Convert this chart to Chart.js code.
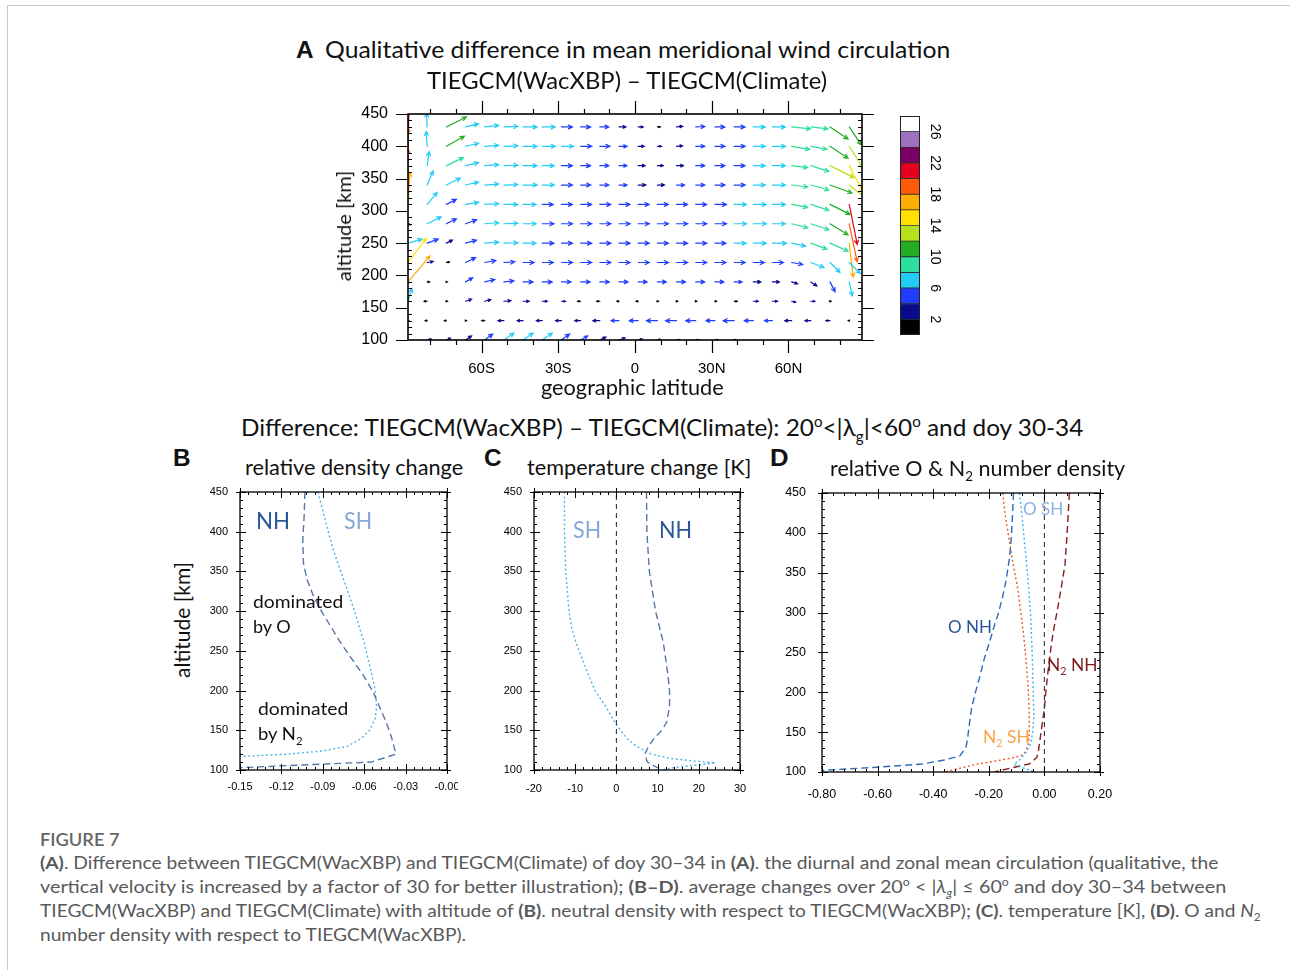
<!DOCTYPE html>
<html>
<head>
<meta charset="utf-8">
<script src="https://cdn.jsdelivr.net/npm/chart.js@4.4.1/dist/chart.umd.min.js"></script>
<style>
html, body { margin: 0; padding: 0; background: #fff; }
#page { position: relative; width: 1290px; height: 970px; overflow: hidden; background: #fff; }
#frame { position: absolute; left: 7px; top: 5px; width: 1300px; height: 980px;
  border-left: 1.5px solid #c8c8c8; border-top: 1.5px solid #c8c8c8; }
canvas { position: absolute; }
.t { position: absolute; white-space: nowrap; line-height: 1; transform-origin: 0 50%; font-family: Lato, "Open Sans", sans-serif; color: #111; }
.t sub, .t sup { font-size: 0.62em; line-height: 0; }
.rot { position: absolute; white-space: nowrap; line-height: 1; font-family: Lato, sans-serif; color: #111;
  transform: translate(-50%, -50%) rotate(-90deg); }
</style>
</head>
<body>
<div id="page">
  <div id="frame"></div>
  <canvas id="chartA" width="540" height="300" style="left:340px;top:90px"></canvas>
  <canvas id="chartBar" width="70" height="240" style="left:890px;top:106px"></canvas>
  <canvas id="chartB" width="263" height="320" style="left:195px;top:480px"></canvas>
  <canvas id="chartC" width="260" height="320" style="left:495px;top:480px"></canvas>
  <canvas id="chartD" width="345" height="330" style="left:775px;top:480px"></canvas>
  <div class="rot" style="left:343px;top:226px;font-size:20px">altitude [km]</div>
  <div class="rot" style="left:181px;top:620px;font-size:21px">altitude [km]</div>
</div>
<script>
// ---- panel A: meridional wind circulation (vectors at grid points) ----
const LATS = [-88.75, -81.25, -73.75, -66.25, -58.75, -51.25, -43.75, -36.25, -28.75, -21.25, -13.75, -6.25,
  1.25, 8.75, 16.25, 23.75, 31.25, 38.75, 46.25, 53.75, 61.25, 68.75, 76.25, 83.75];
const ALTS = [430, 400, 370, 340, 310, 280, 250, 220, 190, 160, 130, 100];
// meridional component (northward +), one row per altitude
const U_WIND = [
  [1, -0.3, 10, 6.5, 7, 7, 7, 6.5, 5.5, 5, 4.5, 3.5, 2.5, 1.5, 3, 4.5, 5, 5.5, 6, 6.5, 9.5, 8.5, 9, 6],
  [0.5, -0.5, 9, 6.5, 7, 7, 7, 6.5, 6, 5.5, 5, 4, 3, 2, 3, 4.5, 5, 5.5, 6, 6.5, 9, 8, 9, 7],
  [0, 1, 8.5, 6.5, 7, 7, 7, 6, 5.5, 5, 4.5, 4, 3.5, 3, 3.5, 4.5, 5, 5.5, 6, 6.5, 8, 9, 12, 7],
  [0, 3, 7, 6.5, 7, 7, 7, 6, 5.5, 5, 4.5, 4, 3.8, 3.5, 4, 4.5, 5, 5.5, 6, 6.5, 8, 9, 11, 10],
  [1, 5, 5, 6.5, 7, 7, 6.5, 5.5, 5.5, 5.5, 5.5, 5.5, 5.5, 5.5, 5.5, 5.5, 5.8, 6.2, 6.5, 6.5, 8, 9, 10, 4],
  [1, 7, 5, 5.5, 7, 7, 6.5, 5.8, 5.5, 5.5, 5.5, 5.5, 5.5, 5.5, 5.5, 5.5, 5.8, 6.2, 6.5, 6.5, 8, 9, 9, 4],
  [7, 5.5, 3, 5.5, 7, 7, 6.5, 5.8, 5.5, 5.5, 5.5, 5.5, 5.5, 5.5, 5.5, 5.5, 5.5, 6, 6.5, 7, 7, 8, 9, 2],
  [9, 3, 1.5, 5, 5.5, 5.5, 5.5, 5.5, 5.5, 5.5, 5.5, 5.5, 5.5, 5.5, 5.5, 5.5, 5.5, 5.5, 5.5, 5.5, 5.5, 6.5, 5, 5.5],
  [11, 1.2, 0.5, 3.5, 5, 5, 5, 5, 4.8, 4.8, 4.8, 4.5, 4.5, 4.5, 4.5, 4.5, 4.5, 4, 3.8, 3.5, 3, 3, 2.5, 1.5],
  [2, -1.5, 0.5, 3, 3, 3.5, 3, 2.5, 2, -1.5, -1.5, -1, -1, 0.5, 0.5, 0.5, 0.8, 1.5, 2.5, 2.5, 2, 2, 0.5, 0],
  [0.5, -1, -1, 0.5, -1.5, -3, -3, -3, -3, -3, -3.5, -4, -4.5, -5.5, -5.5, -5, -4.5, -5.5, -4.5, -4, -3.5, -3, -2, -0.5],
  [0, 2, 2, 3, 4, 5, 5, 5, 4, 3.5, 3, 3, 2, 1.5, 1.5, 1.5, 1.5, 1, 0, 0, 0, 0, 0, 0]
];
// vertical component (x30, upward +)
const W_WIND = [
  [21, 7, 5, 1.5, 0.8, 0.3, 0, 0, 0, 0, 0, 0, 0, 0, 0.3, 0.2, 0, 0, 0, 0, -1, -1, -6, -9],
  [20, 7.5, 5, 1.5, 0.5, 0.2, 0, 0, 0, 0, 0, 0, 0, 0, 0.2, 0, 0, 0, 0, 0, -1.5, -1.5, -6, -11],
  [19, 7, 4, 1.5, 0.5, 0.2, 0, 0, 0, 0, 0, 0, 0, 0, 0, 0, 0, 0, 0, 0, -1, -3, -6, -13],
  [18, 7, 3.5, 1.5, 0.5, 0.2, 0, 0, 0, 0, 0, 0, 0, 0, 0, 0, 0, 0, 0, 0, -1, -2.5, -4, -8],
  [16, 6, 2.5, 1, 0.3, 0, 0, 0, 0, 0, 0, 0, 0, 0, 0, 0, 0, 0, 0, 0, -1.5, -3, -5, -20],
  [-0.5, 3.5, 2.5, 2, 0.5, 0.2, 0, 0, 0, 0, 0, 0, 0, 0, 0, 0, 0, 0, 0, 0, -2, -3, -5.5, -19],
  [2, 2, 1.5, 1.5, 0.5, 0.2, 0, 0, 0, 0, 0, 0, 0, 0, 0, 0, 0, 0, 0, 0, -1.5, -3, -4, -17],
  [12, 0.5, 0.3, 2.5, 1, 0.3, 0, 0, 0, 0, 0, 0, 0, 0, 0, 0, 0, 0, 0, 0, -1, -2.5, -5, -5.5],
  [13, 0, 0, 2, 1.2, 0.5, 0, 0, 0, 0, 0, 0, 0, 0, 0, 0, 0, 0, 0, 0, -1, -2, -5, -7],
  [6.5, 0, 0, 1, 0.8, 0.3, 0, 0, 0, 0, 0, 0, 0, 0, 0, 0, 0, 0, 0, 0, -0.5, 0, 0, 0],
  [0, 0, 0, 0, 0, 0, 0, 0, 0, 0, 0, 0, 0, 0, 0, 0, 0, 0, 0, 0, 0, 0, 0, 0],
  [0, 0.5, 1, 2, 3, 3.5, 3.5, 3.5, 3, 2, 1.5, 1, 0.5, 0.3, 0, 0, 0, 0, 0, 0, 0, 0, 0, 0]
];
const LAT_TICKS = [-60, -30, 0, 30, 60];
const LAT_LABELS = ['60S', '30S', '0', '30N', '60N'];
const ALT_TICKS = [100, 150, 200, 250, 300, 350, 400, 450];

// colour bar levels
const CBAR_EDGES = [0, 2, 4, 6, 8, 10, 12, 14, 16, 18, 20, 22, 24, 26, 28];
const CBAR_LABELS = [2, 6, 10, 14, 18, 22, 26];
const CBAR_COLORS = ['#000000', '#0a0a8c', '#1f3cff', '#22cdf5', '#2ede9e', '#22ad22', '#b7e01a',
  '#ffe000', '#ffad00', '#ff5a0a', '#e5001f', '#7a0066', '#a070c0', '#ffffff'];

// ---- panel B: relative density change ----
const B_ALT_NH = [450, 420, 390, 360, 340, 320, 300, 280, 260, 240, 220, 200, 180, 160, 140, 120, 110, 100];
const B_NH = [-0.103, -0.1035, -0.1045, -0.104, -0.1015, -0.097, -0.091, -0.084, -0.077, -0.069, -0.061, -0.054, -0.049, -0.044, -0.040, -0.037, -0.055, -0.19];
const B_ALT_SH = [450, 420, 380, 340, 300, 260, 220, 200, 180, 165, 150, 140, 130, 124, 120, 117, 114];
const B_SH = [-0.0935, -0.089, -0.083, -0.075, -0.067, -0.060, -0.0545, -0.052, -0.051, -0.052, -0.056, -0.062, -0.072, -0.090, -0.115, -0.15, -0.19];
const B_X_TICKS = [-0.15, -0.12, -0.09, -0.06, -0.03, 0];
const B_X_LABELS = ['-0.15', '-0.12', '-0.09', '-0.06', '-0.03', '-0.00'];

// ---- panel C: temperature change [K] ----
const C_ALT_SH = [450, 400, 350, 300, 280, 260, 240, 220, 200, 180, 160, 150, 140, 130, 120, 115, 112, 109, 106, 103, 100];
const C_SH = [-12.6, -12.6, -12.3, -11.5, -10.9, -9.8, -8.3, -6.8, -5.2, -2.6, -0.4, 1.0, 2.5, 4.8, 8.5, 12.6, 17.5, 24, 19, 14, 11];
const C_ALT_NH = [450, 400, 350, 300, 260, 220, 200, 180, 160, 150, 140, 130, 120, 110, 100];
const C_NH = [7.3, 7.4, 8.0, 9.5, 11.4, 12.5, 12.9, 12.9, 12.2, 11.0, 9.2, 7.8, 6.9, 7.5, 11];
const C_X_TICKS = [-20, -10, 0, 10, 20, 30];

// ---- panel D: relative O & N2 number density ----
const D_ALT_ONH = [450, 400, 370, 340, 320, 300, 280, 260, 240, 220, 200, 180, 160, 140, 130, 120, 115, 110, 106, 102, 100];
const D_ONH = [-0.111, -0.118, -0.125, -0.138, -0.150, -0.165, -0.183, -0.200, -0.218, -0.232, -0.248, -0.262, -0.270, -0.277, -0.283, -0.305, -0.36, -0.44, -0.60, -0.80, -0.90];
const D_ALT_OSH = [450, 420, 390, 350, 300, 250, 200, 170, 150, 135, 125, 115, 110, 105, 100];
const D_OSH = [-0.090, -0.080, -0.072, -0.061, -0.050, -0.044, -0.040, -0.038, -0.042, -0.050, -0.065, -0.090, -0.110, -0.075, -0.035];
const D_ALT_N2SH = [450, 420, 390, 360, 330, 300, 270, 240, 210, 180, 150, 135, 125, 120, 115, 110, 100];
const D_N2SH = [-0.150, -0.140, -0.126, -0.112, -0.096, -0.085, -0.074, -0.066, -0.059, -0.055, -0.054, -0.058, -0.068, -0.085, -0.155, -0.24, -0.36];
const D_ALT_N2NH = [450, 420, 390, 360, 330, 300, 280, 260, 240, 220, 200, 180, 160, 140, 125, 118, 110, 105, 100];
const D_N2NH = [0.090, 0.085, 0.080, 0.074, 0.060, 0.045, 0.034, 0.025, 0.018, 0.011, 0.005, 0.0, -0.008, -0.016, -0.022, -0.028, -0.055, -0.12, -0.18];
const D_X_TICKS = [-0.8, -0.6, -0.4, -0.2, 0, 0.2];
const D_X_LABELS = ['-0.80', '-0.60', '-0.40', '-0.20', '0.00', '0.20'];

const ARROW_SCALE = 2; // px per unit

Chart.defaults.font.family = '"Liberation Sans", Arial, sans-serif';
Chart.defaults.color = '#000';

function range(a, b, step) {
  const out = [];
  for (let v = a; v <= b + 1e-9; v += step) out.push(Math.round(v * 1e6) / 1e6);
  return out;
}

// frame + NCL-like major/minor tick marks on all four sides
const frameTicks = {
  id: 'frameTicks',
  afterDraw(chart, args, o) {
    if (!o || !o.on) return;
    const { ctx, chartArea: a } = chart;
    const xs = chart.scales.x, ys = chart.scales.y;
    ctx.save();
    ctx.strokeStyle = '#000';
    ctx.lineWidth = o.frameWidth;
    ctx.strokeRect(a.left, a.top, a.right - a.left, a.bottom - a.top);
    ctx.lineWidth = o.tickWidth;
    ctx.beginPath();
    const xt = (vals, len) => vals.forEach(v => {
      const p = Math.round(xs.getPixelForValue(v)) + 0.5;
      ctx.moveTo(p, a.bottom - len[0]); ctx.lineTo(p, a.bottom + len[1]);
      ctx.moveTo(p, a.top + len[0]); ctx.lineTo(p, a.top - len[1]);
    });
    const yt = (vals, len) => vals.forEach(v => {
      const p = Math.round(ys.getPixelForValue(v)) + 0.5;
      ctx.moveTo(a.left + len[0], p); ctx.lineTo(a.left - len[1], p);
      ctx.moveTo(a.right - len[0], p); ctx.lineTo(a.right + len[1], p);
    });
    xt(o.xMajor, o.xMajorLen); xt(o.xMinor, o.xMinorLen);
    yt(o.yMajor, o.yMajorLen); yt(o.yMinor, o.yMinorLen);
    ctx.stroke();
    ctx.restore();
  }
};

function colorFor(mag) {
  const k = Math.min(CBAR_COLORS.length - 1, Math.floor(mag / 2));
  return CBAR_COLORS[k];
}

// draw vector arrows with tails at the grid points placed by the scales
const quiver = {
  id: 'quiver',
  afterDatasetsDraw(chart) {
    const { ctx, chartArea: a } = chart;
    ctx.save();
    ctx.beginPath();
    ctx.rect(a.left, a.top, a.right - a.left, a.bottom - a.top);
    ctx.clip();
    ctx.lineWidth = 1.2;
    ctx.lineCap = 'round';
    chart.data.datasets.forEach((ds, i) => {
      chart.getDatasetMeta(i).data.forEach((pt, j) => {
        const u = U_WIND[i][j], w = W_WIND[i][j];
        const mag = Math.hypot(u, w);
        if (mag < 0.4) return;
        const x0 = pt.x, y0 = pt.y;
        const dx = u * ARROW_SCALE, dy = -w * ARROW_SCALE;
        const x1 = x0 + dx, y1 = y0 + dy;
        const ang = Math.atan2(dy, dx);
        const hl = Math.min(4.5, Math.max(1.5, mag * ARROW_SCALE * 0.45));
        ctx.strokeStyle = colorFor(mag);
        ctx.beginPath();
        ctx.moveTo(x0, y0); ctx.lineTo(x1, y1);
        ctx.moveTo(x1 - hl * Math.cos(ang - 0.45), y1 - hl * Math.sin(ang - 0.45));
        ctx.lineTo(x1, y1);
        ctx.lineTo(x1 - hl * Math.cos(ang + 0.45), y1 - hl * Math.sin(ang + 0.45));
        ctx.stroke();
      });
    });
    ctx.restore();
  }
};

const noInteract = { responsive: false, animation: false, events: [] };
const noGrid = { display: false, drawTicks: false };

// ---------- chart A ----------
new Chart(document.getElementById('chartA'), {
  type: 'scatter',
  data: {
    datasets: ALTS.map(alt => ({
      data: LATS.map(lat => ({ x: lat, y: alt })),
      pointRadius: 0, showLine: false
    }))
  },
  options: {
    ...noInteract,
    layout: { padding: { left: 0, top: 24, right: 18, bottom: 0 } },
    plugins: {
      legend: { display: false }, tooltip: { enabled: false },
      frameTicks: {
        on: true, frameWidth: 1.6, tickWidth: 1.2,
        xMajor: LAT_TICKS, xMajorLen: [0, 13],
        xMinor: range(-80, 80, 10).filter(v => v % 30 !== 0), xMinorLen: [0, 5],
        yMajor: ALT_TICKS, yMajorLen: [0, 12],
        yMinor: range(110, 440, 10).filter(v => v % 50 !== 0), yMinorLen: [4, 0]
      }
    },
    scales: {
      x: {
        type: 'linear', min: -88.75, max: 88.75,
        afterBuildTicks: s => { s.ticks = LAT_TICKS.map(v => ({ value: v })); },
        afterFit: s => { s.height = 50; s.paddingLeft = 0; s.paddingRight = 0; },
        ticks: { autoSkip: false, maxRotation: 0, padding: 20, font: { size: 15 },
          callback: (v, i) => LAT_LABELS[i] },
        grid: noGrid, border: { display: false }
      },
      y: {
        type: 'linear', min: 100, max: 450,
        afterBuildTicks: s => { s.ticks = ALT_TICKS.map(v => ({ value: v })); },
        afterFit: s => { s.width = 68; s.paddingTop = 0; s.paddingBottom = 0; },
        ticks: { autoSkip: false, padding: 20, font: { size: 16 } },
        grid: noGrid, border: { display: false }
      }
    }
  },
  plugins: [quiver, frameTicks]
});

// ---------- colour bar ----------
const cbarLabels = {
  id: 'cbarLabels',
  afterDraw(chart) {
    const { ctx, chartArea: a } = chart;
    const ys = chart.scales.y;
    ctx.save();
    ctx.fillStyle = '#000';
    ctx.font = '14px "Liberation Sans", Arial, sans-serif';
    ctx.textAlign = 'center';
    ctx.textBaseline = 'middle';
    CBAR_LABELS.forEach(v => {
      ctx.save();
      ctx.translate(a.right + 15, ys.getPixelForValue(v));
      ctx.rotate(Math.PI / 2);
      ctx.fillText(String(v), 0, 0);
      ctx.restore();
    });
    ctx.strokeStyle = '#222';
    ctx.lineWidth = 1;
    ctx.strokeRect(a.left + 0.5, a.top + 0.5, a.right - a.left - 1, a.bottom - a.top - 1);
    ctx.restore();
  }
};
new Chart(document.getElementById('chartBar'), {
  type: 'bar',
  data: {
    labels: ['speed'],
    datasets: CBAR_COLORS.map((c, k) => ({
      data: [[CBAR_EDGES[k], CBAR_EDGES[k + 1]]],
      backgroundColor: c, borderColor: '#333', borderWidth: 0.8, borderSkipped: false,
      barPercentage: 1, categoryPercentage: 1, grouped: false
    }))
  },
  options: {
    ...noInteract,
    layout: { padding: { left: 10, top: 10, right: 40, bottom: 11 } },
    plugins: { legend: { display: false }, tooltip: { enabled: false } },
    scales: {
      x: { display: false },
      y: { display: false, min: 0, max: 28 }
    }
  },
  plugins: [cbarLabels]
});

// ---------- profile panels ----------
function profileChart(id, cfg) {
  return new Chart(document.getElementById(id), {
    type: 'scatter',
    data: {
      datasets: cfg.series.map(s => ({
        data: s.values.map((v, i) => ({ x: v, y: s.alts[i] })),
        showLine: true, borderColor: s.color, borderWidth: s.width || 1.4,
        borderDash: s.dash, pointRadius: 0, tension: 0
      }))
    },
    options: {
      ...noInteract,
      layout: { padding: cfg.padding },
      plugins: {
        legend: { display: false }, tooltip: { enabled: false },
        frameTicks: {
          on: true, frameWidth: 1.3, tickWidth: 1,
          xMajor: cfg.xTicks, xMajorLen: [6, 4], xMinor: cfg.xMinor, xMinorLen: [3, 0],
          yMajor: ALT_TICKS, yMajorLen: [6, 4],
          yMinor: range(110, 440, 10).filter(v => v % 50 !== 0), yMinorLen: [3, 0]
        }
      },
      scales: {
        x: {
          type: 'linear', min: cfg.xMin, max: cfg.xMax,
          afterBuildTicks: s => { s.ticks = cfg.xTicks.map(v => ({ value: v })); },
          afterFit: s => { s.height = cfg.xH; s.paddingLeft = 0; s.paddingRight = 0; },
          ticks: { autoSkip: false, maxRotation: 0, padding: cfg.xPad, font: { size: cfg.font },
            callback: (v, i) => cfg.xLabels[i] },
          grid: noGrid, border: { display: false }
        },
        y: {
          type: 'linear', min: 100, max: 450,
          afterBuildTicks: s => { s.ticks = ALT_TICKS.map(v => ({ value: v })); },
          afterFit: s => { s.width = cfg.yW; s.paddingTop = 0; s.paddingBottom = 0; },
          ticks: { autoSkip: false, padding: cfg.yPad, font: { size: cfg.font } },
          grid: noGrid, border: { display: false }
        }
      }
    },
    plugins: [frameTicks]
  });
}

const NH_BLUE = '#5576a8', SH_BLUE = '#4fb3ea';

profileChart('chartB', {
  padding: { left: 0, top: 12, right: 11, bottom: 0 }, yW: 45, xH: 30, xPad: 10, yPad: 12, font: 11,
  xMin: -0.15, xMax: 0, xTicks: B_X_TICKS, xLabels: B_X_LABELS, xMinor: range(-0.144, -0.006, 0.006).filter(v => Math.abs(v * 100 / 3 - Math.round(v * 100 / 3)) > 1e-6),
  series: [
    { values: B_NH, alts: B_ALT_NH, color: NH_BLUE, dash: [7, 4] },
    { values: B_SH, alts: B_ALT_SH, color: SH_BLUE, dash: [2, 2.5] }
  ]
});

profileChart('chartC', {
  padding: { left: 0, top: 12, right: 15, bottom: 0 }, yW: 39, xH: 30, xPad: 12, yPad: 12, font: 11,
  xMin: -20, xMax: 30, xTicks: C_X_TICKS, xLabels: C_X_TICKS.map(String), xMinor: range(-18, 28, 2).filter(v => v % 10 !== 0),
  series: [
    { values: [0, 0], alts: [100, 450], color: '#333', dash: [5, 4], width: 1.1 },
    { values: C_SH, alts: C_ALT_SH, color: SH_BLUE, dash: [2, 2.5] },
    { values: C_NH, alts: C_ALT_NH, color: NH_BLUE, dash: [7, 4] }
  ]
});

profileChart('chartD', {
  padding: { left: 0, top: 13, right: 20, bottom: 0 }, yW: 47, xH: 38, xPad: 15, yPad: 16, font: 12.5,
  xMin: -0.8, xMax: 0.2, xTicks: D_X_TICKS, xLabels: D_X_LABELS, xMinor: range(-0.76, 0.16, 0.04).filter(v => Math.abs(v * 5 - Math.round(v * 5)) > 1e-6),
  series: [
    { values: [0, 0], alts: [100, 450], color: '#333', dash: [5, 4], width: 1.1 },
    { values: D_ONH, alts: D_ALT_ONH, color: '#2f6cb5', dash: [7, 4] },
    { values: D_OSH, alts: D_ALT_OSH, color: '#38b4f0', dash: [2, 2.5] },
    { values: D_N2SH, alts: D_ALT_N2SH, color: '#f0582a', dash: [2, 2.5] },
    { values: D_N2NH, alts: D_ALT_N2NH, color: '#8e1c1c', dash: [7, 4] }
  ]
});

// ---------- titles, annotations, caption ----------
const CAP = '#58595b';
const TEXTS = [
  { h: 'A', x: 296, cy: 50, s: 23, w: 18, bold: true, arial: true },
  { h: 'Qualitative difference in mean meridional wind circulation', x: 325, cy: 50, s: 24, w: 625 },
  { h: 'TIEGCM(WacXBP) – TIEGCM(Climate)', x: 427, cy: 81, s: 24, w: 400 },
  { h: 'geographic latitude', x: 541, cy: 388, s: 21, w: 183 },
  { h: 'Difference: TIEGCM(WacXBP) – TIEGCM(Climate): 20<sup>o</sup>&lt;|λ<sub>g</sub>|&lt;60<sup>o</sup> and doy 30-34', x: 241, cy: 428, s: 24, w: 842 },
  { h: 'B', x: 173, cy: 458, s: 23, w: 18, bold: true, arial: true },
  { h: 'relative density change', x: 245, cy: 468, s: 21, w: 218 },
  { h: 'C', x: 484, cy: 458, s: 23, w: 18, bold: true, arial: true },
  { h: 'temperature change [K]', x: 527, cy: 468, s: 21, w: 224 },
  { h: 'D', x: 770, cy: 458, s: 23, w: 19, bold: true, arial: true },
  { h: 'relative O &amp; N<sub>2</sub> number density', x: 830, cy: 469, s: 21, w: 295 },
  // B annotations
  { h: 'NH', x: 256, cy: 522, s: 23, w: 34, c: '#2a5599' },
  { h: 'SH', x: 344, cy: 522, s: 23, w: 28, c: '#84a6d9' },
  { h: 'dominated', x: 253, cy: 602, s: 18, w: 90 },
  { h: 'by O', x: 253, cy: 627, s: 18, w: 38 },
  { h: 'dominated', x: 258, cy: 709, s: 18, w: 90 },
  { h: 'by N<sub>2</sub>', x: 258, cy: 734, s: 18, w: 45 },
  // C annotations
  { h: 'SH', x: 573, cy: 531, s: 23, w: 28, c: '#84a6d9' },
  { h: 'NH', x: 659, cy: 531, s: 23, w: 33, c: '#2a5599' },
  // D annotations
  { h: 'O SH', x: 1023, cy: 510, s: 17, w: 40, c: '#8eb0e0' },
  { h: 'O NH', x: 948, cy: 628, s: 17, w: 44, c: '#2a5599' },
  { h: 'N<sub>2</sub> NH', x: 1047, cy: 666, s: 17, w: 50, c: '#7b1a1a' },
  { h: 'N<sub>2</sub> SH', x: 983, cy: 738, s: 17, w: 47, c: '#f5a544' },
  // caption
  { h: 'FIGURE 7', x: 40, cy: 840, s: 18, w: 80, c: '#666', weight: 600 },
  { h: '<b>(A)</b>. Difference between TIEGCM(WacXBP) and TIEGCM(Climate) of doy 30–34 in <b>(A)</b>. the diurnal and zonal mean circulation (qualitative, the', x: 40, cy: 864, s: 17, w: 1178, c: CAP },
  { h: 'vertical velocity is increased by a factor of 30 for better illustration); <b>(B–D)</b>. average changes over 20<sup>o</sup> &lt; |<i>λ<sub>g</sub></i>| ≤ 60<sup>o</sup> and doy 30–34 between', x: 40, cy: 888, s: 17, w: 1186, c: CAP },
  { h: 'TIEGCM(WacXBP) and TIEGCM(Climate) with altitude of <b>(B)</b>. neutral density with respect to TIEGCM(WacXBP); <b>(C)</b>. temperature [K], <b>(D)</b>. O and <i>N</i><sub>2</sub>', x: 40, cy: 912, s: 17, w: 1221, c: CAP },
  { h: 'number density with respect to TIEGCM(WacXBP).', x: 40, cy: 936, s: 17, w: 426, c: CAP }
];

const page = document.getElementById('page');
TEXTS.forEach(t => {
  const el = document.createElement('div');
  el.className = 't';
  el.innerHTML = t.h;
  el.style.fontSize = t.s + 'px';
  el.style.left = t.x + 'px';
  el.style.top = (t.cy - t.s * (t.arial ? 0.49 : 0.56)) + 'px';
  if (t.c) el.style.color = t.c;
  if (t.bold) el.style.fontWeight = 'bold';
  if (t.weight) el.style.fontWeight = t.weight;
  if (t.arial) el.style.fontFamily = '"Liberation Sans", Arial, sans-serif';
  page.appendChild(el);
  const ow = el.offsetWidth;
  if (ow > 0 && t.w) el.style.transform = 'scaleX(' + (t.w / ow).toFixed(4) + ')';
});
</script>
</body>
</html>
